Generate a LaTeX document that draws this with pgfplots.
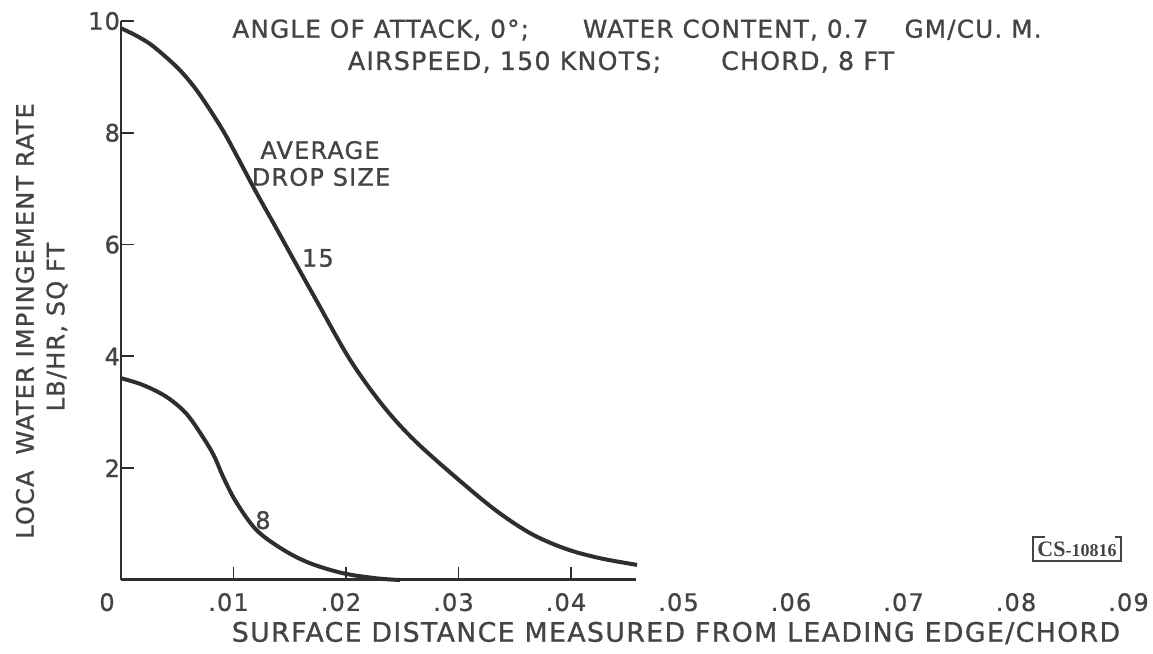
\documentclass[border=0pt]{standalone}
\usepackage{fontspec}
\setmainfont{DejaVu Sans}[LetterSpace=5, FakeBold=1]
\newfontfamily\serifcs{Liberation Serif}
\usepackage{pgfplots}
\pgfplotsset{compat=1.18}
\definecolor{ink}{HTML}{2E2E2E}
\definecolor{txt}{HTML}{444442}
\newcommand{\tf}{\fontsize{12}{14}\selectfont}
\begin{document}
\begin{tikzpicture}[x=0.5pt,y=0.5pt]
\useasboundingbox (0,0) rectangle (1153,654);
\begin{axis}[
  at={(60.5pt,37pt)}, anchor=south west, scale only axis,
  width=506.25pt, height=279.5pt,
  xmin=0, xmax=0.09, ymin=0, ymax=10,
  scaled x ticks=false,
  axis x line*=bottom, axis y line*=left,
  x axis line style={draw=none},
  y axis line style={draw=ink, line width=1.4pt},
  tick align=inside,
  major tick length=6.5pt,
  tick style={draw=ink, line width=0.9pt},
  xtick={0.01,0.02,0.03,0.04},
  xticklabels={.01,.02,.03,.04},
  extra x ticks={0,0.05,0.06,0.07,0.08,0.09},
  extra x tick labels={\hspace*{-9pt}0,.05,.06,.07,.08,.09},
  extra x tick style={major tick length=0pt},
  ytick={2,4,6,8,10},
  yticklabels={2,4,6,8,10},
  xticklabel style={font=\tf, text=txt, yshift=-3pt, xshift=-2.5pt},
  yticklabel style={font=\tf, text=txt, xshift=3pt},
  clip=false,
]
\addplot[ink, line width=1.5pt] coordinates {(0,0) (0.0458,0)};
\addplot[ink, line width=2pt, smooth, tension=0.55] coordinates {
(0,9.87) (0.00124,9.75) (0.00258,9.59) (0.00391,9.37) (0.00524,9.12)
(0.00658,8.80) (0.00791,8.41) (0.00924,7.98) (0.01058,7.48) (0.01206,6.92)
(0.01384,6.28) (0.01532,5.74) (0.01740,4.99) (0.02036,3.94) (0.02332,3.11)
(0.02628,2.46) (0.03073,1.67) (0.03369,1.19) (0.03662,0.81)
(0.03964,0.55) (0.04258,0.39) (0.04587,0.27)};
\addplot[ink, line width=2pt, smooth, tension=0.55] coordinates {
(0,3.61) (0.00193,3.49) (0.00401,3.28) (0.00579,2.98) (0.00727,2.56)
(0.00827,2.22) (0.00916,1.81) (0.01028,1.38) (0.01206,0.89) (0.01443,0.54)
(0.01680,0.30) (0.01976,0.12) (0.02273,0.03) (0.0248,0.0)};
\node[text=txt, font=\tf] at (axis cs:0.01262,1.07) {8};
\node[text=txt, font=\tf] at (axis cs:0.0175,5.76) {15};
\node[text=txt, font=\tf] at (axis cs:0.01769,7.69) {AVERAGE};
\node[text=txt, font=\tf] at (axis cs:0.01778,7.21) {DROP SIZE};
\end{axis}
\node[text=txt, font=\fontsize{12.3}{14}\selectfont] at (637,624) {ANGLE OF ATTACK, 0°;\hspace{27pt}WATER CONTENT, 0.7\hspace{18pt}GM/CU. M.};
\node[text=txt, font=\fontsize{12.6}{14}\selectfont] at (621,592) {AIRSPEED, 150 KNOTS;\hspace{30pt}CHORD, 8 FT};
\node[text=txt, font=\fontsize{13.4}{15}\selectfont] at (676,21) {SURFACE DISTANCE MEASURED FROM LEADING EDGE/CHORD};
\node[text=txt, font=\tf, rotate=90] at (25,333) {LOCA\hspace{8pt}WATER IMPINGEMENT RATE};
\node[text=txt, font=\tf, rotate=90] at (57,327) {LB/HR, SQ FT};
\node[text=txt, font=\serifcs\bfseries\fontsize{9}{10}\selectfont, inner sep=2pt] (cs) at (1077,105) {{\fontsize{11}{12}\selectfont CS}-10816};
\draw[txt, line width=0.8pt] ([xshift=6pt]cs.north west) -- (cs.north west) -- (cs.south west) -- (cs.south east) -- (cs.north east) -- ([xshift=-3pt]cs.north east);
\end{tikzpicture}
\end{document}
